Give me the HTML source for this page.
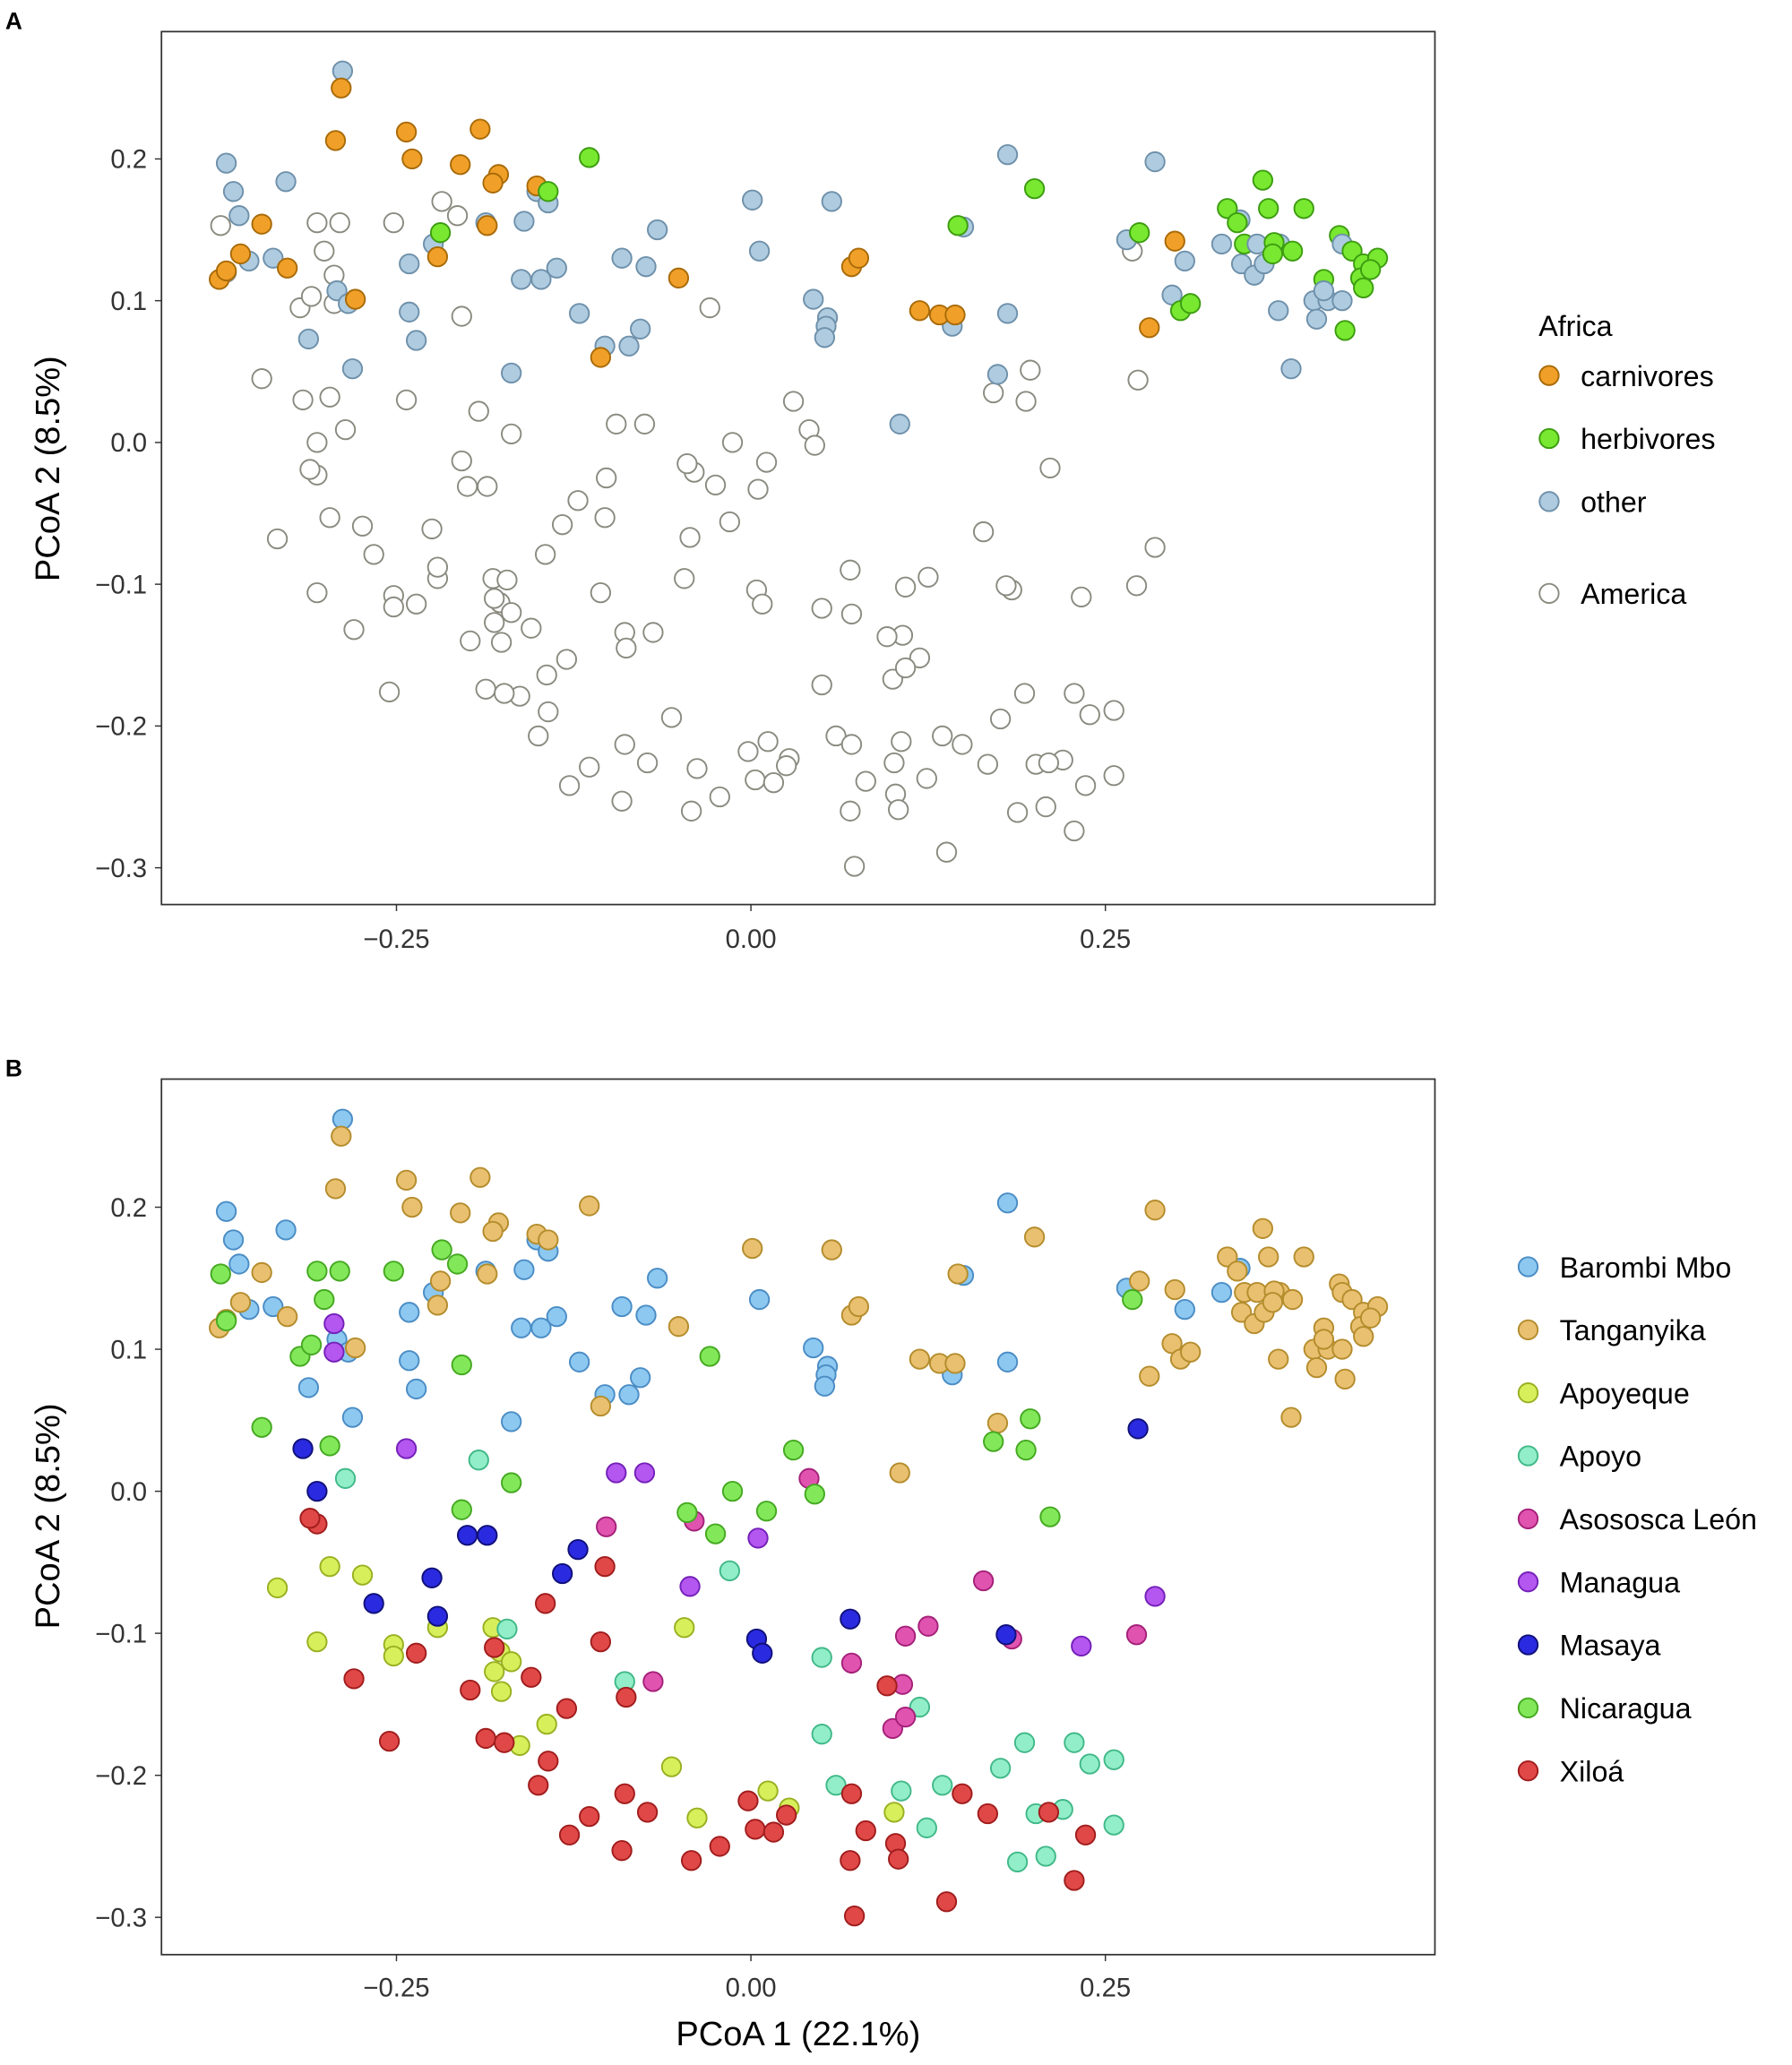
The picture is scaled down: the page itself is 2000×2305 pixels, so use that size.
<!DOCTYPE html>
<html><head><meta charset="utf-8"><style>
html,body{margin:0;padding:0;background:#fff}
svg{display:block;font-family:"Liberation Sans",sans-serif}
</style></head><body>
<svg id="chart" width="2000" height="2305" viewBox="0 0 1365 1573" xmlns="http://www.w3.org/2000/svg">
<rect x="0" y="0" width="1365" height="1573" fill="#fff"/>
<text x="4" y="22" font-size="18" font-weight="bold">A</text>
<text x="4" y="820" font-size="18" font-weight="bold">B</text>
<rect x="123" y="24" width="970" height="665" fill="none" stroke="#333" stroke-width="1.2"/>
<rect x="123" y="822" width="970" height="667" fill="none" stroke="#333" stroke-width="1.2"/>
<g id="gA"></g>
<g id="gB"></g>
<g id="axes"></g>
<text transform="translate(45,357) rotate(-90)" text-anchor="middle" font-size="26">PCoA 2 (8.5%)</text>
<text transform="translate(45,1155) rotate(-90)" text-anchor="middle" font-size="26">PCoA 2 (8.5%)</text>
<text x="608" y="1558" text-anchor="middle" font-size="26">PCoA 1 (22.1%)</text>
<text x="1172" y="256" font-size="22">Africa</text>
<g id="legA"></g>
<g id="legB"></g>
</svg>
<script>
const xTicks=[-0.25,0,0.25];
const xTickLabels=["\u22120.25","0.00","0.25"];
const yTicks=[0.2,0.1,0,-0.1,-0.2,-0.3];
const yTickLabels=["0.2","0.1","0.0","\u22120.1","\u22120.2","\u22120.3"];
const groupsB=["Barombi Mbo","Tanganyika","Apoyeque","Apoyo","Asososca León","Managua","Masaya","Nicaragua","Xiloá"];
const groupsA=["carnivores","herbivores","other","America"];
// [x, y, panelB group index, panelA category]
const barombi=[[-0.288,0.262],[-0.370,0.197],[-0.365,0.177],[-0.361,0.160],[-0.354,0.128],[-0.328,0.184],[-0.337,0.130],[-0.312,0.073],[-0.281,0.052],[-0.292,0.107],[-0.284,0.098],[-0.224,0.140],[-0.241,0.126],[-0.241,0.092],[-0.236,0.072],[-0.187,0.155],[-0.160,0.156],[-0.151,0.177],[-0.143,0.169],[-0.137,0.123],[-0.162,0.115],[-0.148,0.115],[-0.121,0.091],[-0.103,0.068],[-0.086,0.068],[-0.078,0.080],[-0.091,0.130],[-0.074,0.124],[-0.066,0.150],[-0.169,0.049],[0.044,0.101],[0.054,0.088],[0.053,0.082],[0.052,0.074],[0.142,0.082],[0.181,0.091],[0.150,0.152],[0.181,0.203],[0.265,0.143],[0.345,0.157],[0.306,0.128],[0.332,0.140],[0.006,0.135]];
const tanganyika=[[-0.289,0.250,"c"],[-0.293,0.213,"c"],[-0.375,0.115,"c"],[-0.370,0.121,"c"],[-0.360,0.133,"c"],[-0.345,0.154,"c"],[-0.327,0.123,"c"],[-0.279,0.101,"c"],[-0.243,0.219,"c"],[-0.239,0.200,"c"],[-0.219,0.148,"h"],[-0.221,0.131,"c"],[-0.205,0.196,"c"],[-0.191,0.221,"c"],[-0.178,0.189,"c"],[-0.182,0.183,"c"],[-0.151,0.181,"c"],[-0.143,0.177,"h"],[-0.114,0.201,"h"],[-0.186,0.153,"c"],[-0.106,0.060,"c"],[-0.051,0.116,"c"],[0.001,0.171,"o"],[0.057,0.170,"o"],[0.071,0.124,"c"],[0.076,0.130,"c"],[0.119,0.093,"c"],[0.133,0.090,"c"],[0.144,0.090,"c"],[0.174,0.048,"o"],[0.105,0.013,"o"],[0.200,0.179,"h"],[0.146,0.153,"h"],[0.274,0.148,"h"],[0.285,0.198,"o"],[0.299,0.142,"c"],[0.297,0.104,"o"],[0.281,0.081,"c"],[0.303,0.093,"h"],[0.310,0.098,"h"],[0.336,0.165,"h"],[0.361,0.185,"h"],[0.343,0.155,"h"],[0.365,0.165,"h"],[0.390,0.165,"h"],[0.373,0.140,"o"],[0.381,0.052,"o"],[0.372,0.093,"o"],[0.346,0.126,"o"],[0.355,0.118,"o"],[0.348,0.140,"h"],[0.357,0.140,"o"],[0.369,0.141,"h"],[0.382,0.135,"h"],[0.397,0.100,"o"],[0.399,0.087,"o"],[0.407,0.100,"o"],[0.417,0.100,"o"],[0.415,0.146,"h"],[0.417,0.140,"o"],[0.424,0.135,"h"],[0.432,0.126,"h"],[0.430,0.116,"h"],[0.442,0.130,"h"],[0.437,0.122,"h"],[0.419,0.079,"h"],[0.404,0.115,"h"],[0.404,0.107,"o"],[0.432,0.109,"h"],[0.362,0.126,"o"],[0.368,0.133,"h"]];
const apoyeque=[[-0.334,-0.068],[-0.306,-0.106],[-0.297,-0.053],[-0.274,-0.059],[-0.252,-0.108],[-0.252,-0.116],[-0.221,-0.096],[-0.182,-0.096],[-0.177,-0.113],[-0.181,-0.127],[-0.176,-0.141],[-0.169,-0.120],[-0.163,-0.179],[-0.144,-0.164],[-0.056,-0.194],[-0.047,-0.096],[-0.038,-0.230],[0.012,-0.211],[0.027,-0.223],[0.101,-0.226]];
const apoyo=[[-0.286,0.009],[-0.192,0.022],[-0.172,-0.097],[-0.015,-0.056],[-0.089,-0.134],[0.050,-0.117],[0.050,-0.171],[0.060,-0.207],[0.106,-0.211],[0.119,-0.152],[0.135,-0.207],[0.124,-0.237],[0.176,-0.195],[0.193,-0.177],[0.228,-0.177],[0.188,-0.261],[0.201,-0.227],[0.208,-0.257],[0.220,-0.224],[0.239,-0.192],[0.256,-0.189],[0.256,-0.235]];
const asososca=[[-0.040,-0.021],[-0.102,-0.025],[0.041,0.009],[0.109,-0.102],[0.125,-0.095],[0.164,-0.063],[0.184,-0.104],[-0.069,-0.134],[0.071,-0.121],[0.107,-0.136],[0.100,-0.167],[0.109,-0.159],[0.272,-0.101]];
const managua=[[-0.294,0.118],[-0.243,0.030],[-0.095,0.013],[-0.075,0.013],[0.005,-0.033],[-0.043,-0.067],[0.233,-0.109],[0.285,-0.074],[-0.294,0.098]];
const masaya=[[-0.316,0.030],[-0.306,0.000],[-0.266,-0.079],[-0.225,-0.061],[-0.221,-0.088],[-0.200,-0.031],[-0.186,-0.031],[-0.122,-0.041],[-0.133,-0.058],[0.004,-0.104],[0.008,-0.114],[0.070,-0.090],[0.180,-0.101],[0.273,0.044]];
const nicaragua=[[-0.374,0.153],[-0.370,0.120],[-0.345,0.045],[-0.318,0.095],[-0.310,0.103],[-0.306,0.155],[-0.290,0.155],[-0.301,0.135],[-0.252,0.155],[-0.218,0.170],[-0.207,0.160],[-0.204,0.089],[-0.204,-0.013],[-0.169,0.006],[-0.029,0.095],[-0.045,-0.015],[-0.025,-0.030],[-0.013,0.000],[0.011,-0.014],[0.030,0.029],[0.045,-0.002],[0.171,0.035],[0.197,0.051],[0.194,0.029],[0.211,-0.018],[0.269,0.135],[-0.297,0.032]];
const xiloa=[[-0.306,-0.023],[-0.311,-0.019],[-0.280,-0.132],[-0.255,-0.176],[-0.236,-0.114],[-0.198,-0.140],[-0.187,-0.174],[-0.181,-0.110],[-0.174,-0.177],[-0.155,-0.131],[-0.145,-0.079],[-0.150,-0.207],[-0.143,-0.190],[-0.130,-0.153],[-0.128,-0.242],[-0.114,-0.229],[-0.106,-0.106],[-0.103,-0.053],[-0.091,-0.253],[-0.089,-0.213],[-0.088,-0.145],[-0.073,-0.226],[-0.042,-0.260],[-0.022,-0.250],[-0.002,-0.218],[0.003,-0.238],[0.016,-0.240],[0.025,-0.228],[0.071,-0.213],[0.070,-0.260],[0.073,-0.299],[0.081,-0.239],[0.096,-0.137],[0.102,-0.248],[0.104,-0.259],[0.138,-0.289],[0.149,-0.213],[0.167,-0.227],[0.210,-0.226],[0.236,-0.242],[0.228,-0.274]];

const NS="http://www.w3.org/2000/svg";
const sx=v=>572+1080*v;
const syA=v=>337-1080*v;
const syB=v=>1136-1082*v;
const colB=[["#8cc8f0","#4a8cc4"],["#e8c070","#b48c2c"],["#d8ef5c","#98b020"],["#92eec8","#40b888"],["#e054b0","#a42078"],["#b456f0","#7420b8"],["#2a2ae0","#10107a"],["#82e85a","#44a820"],["#e04848","#a01c1c"]];
const colA={c:["#f0a028","#a86a08"],h:["#78e830","#3c9c10"],o:["#aecbe0","#6e90aa"],a:["#ffffff","#8a8a80"]};
const catIdx={c:0,h:1,o:2,a:3};
function circ(parent,cx,cy,f,s){const c=document.createElementNS(NS,"circle");c.setAttribute("cx",cx);c.setAttribute("cy",cy);c.setAttribute("r",7.3);c.setAttribute("fill",f);c.setAttribute("stroke",s);c.setAttribute("stroke-width",1.3);parent.appendChild(c);return c;}
function txt(parent,x,y,str,size,anchor){const t=document.createElementNS(NS,"text");t.setAttribute("x",x);t.setAttribute("y",y);t.setAttribute("font-size",size);if(anchor)t.setAttribute("text-anchor",anchor);t.textContent=str;parent.appendChild(t);return t;}
const pts=[];
barombi.forEach(p=>pts.push([p[0],p[1],0,"o"]));
tanganyika.forEach(p=>pts.push([p[0],p[1],1,p[2]]));
[apoyeque,apoyo,asososca,managua,masaya,nicaragua,xiloa].forEach((arr,i)=>arr.forEach(p=>pts.push([p[0],p[1],i+2,"a"])));
const gA=document.getElementById("gA"),gB=document.getElementById("gB");
// panel A: America first, then africa
const orderA=[...pts.filter(p=>p[3]==="a"),...pts.filter(p=>p[3]!=="a")];
orderA.forEach(p=>{const c=circ(gA,sx(p[0]),syA(p[1]),colA[p[3]][0],colA[p[3]][1]);

});
pts.forEach(p=>{const c=circ(gB,sx(p[0]),syB(p[1]),colB[p[2]][0],colB[p[2]][1]);

});
const ax=document.getElementById("axes");
[[syA,689,722],[syB,1489,1521]].forEach(([sy,bot,ly])=>{
 xTicks.forEach((t,i)=>{const l=document.createElementNS(NS,"line");l.setAttribute("x1",sx(t));l.setAttribute("x2",sx(t));l.setAttribute("y1",bot);l.setAttribute("y2",bot+5);l.setAttribute("stroke","#333");ax.appendChild(l);
  const tt=txt(ax,sx(t),ly,xTickLabels[i],20,"middle");tt.setAttribute("fill","#333");
  
  });
 yTicks.forEach((t,i)=>{const l=document.createElementNS(NS,"line");l.setAttribute("x1",118);l.setAttribute("x2",123);l.setAttribute("y1",sy(t));l.setAttribute("y2",sy(t));l.setAttribute("stroke","#333");ax.appendChild(l);
  const tt=txt(ax,112,sy(t)+7,yTickLabels[i],20,"end");tt.setAttribute("fill","#333");
  
  });
});
const legA=document.getElementById("legA");
[["c",286],["h",334],["o",382],["a",452]].forEach(([k,y])=>{const c=circ(legA,1180,y,colA[k][0],colA[k][1]);


const t=txt(legA,1204,y+8,groupsA[catIdx[k]],22);

});
const legB=document.getElementById("legB");
groupsB.forEach((g,i)=>{const y=965+48*i;const c=circ(legB,1164,y,colB[i][0],colB[i][1]);


const t=txt(legB,1188,y+8,g,22);

});
</script>
</body></html>
